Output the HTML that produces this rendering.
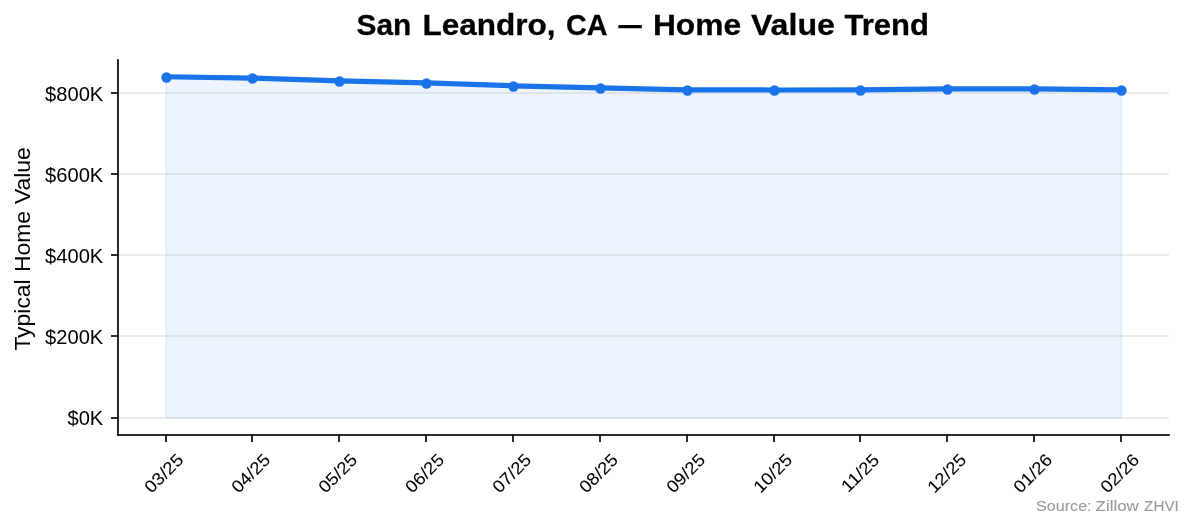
<!DOCTYPE html>
<html lang="en">
<head>
<meta charset="utf-8">
<title>San Leandro, CA — Home Value Trend</title>
<style>
html,body{margin:0;padding:0;background:#ffffff;}
body{width:1194px;height:529px;overflow:hidden;font-family:"Liberation Sans",sans-serif;}
svg{display:block;will-change:transform;}
text{font-family:"Liberation Sans",sans-serif;fill:#000000;}
.grid rect{fill:#b0b0b0;fill-opacity:0.25;}
.axis rect{fill:#000000;fill-opacity:0.8333;}
.ytick text{font-size:19.6px;text-anchor:end;stroke:#000000;stroke-width:0px;}
.xtick text{font-size:17.375px;text-anchor:middle;stroke:#000000;stroke-width:0.075px;}
</style>
</head>
<body>
<svg width="1194" height="529" viewBox="0 0 1194 529">
<rect x="0" y="0" width="1194" height="529" fill="#ffffff"/>
<polygon points="166,76.79 252.41,78.05 339.26,80.81 426.11,82.92 512.96,85.8 599.81,87.83 686.66,89.82 773.51,89.98 860.36,89.86 947.21,88.89 1034.06,88.97 1121.5,89.82 1121.5,418 166,418" fill="#1a73e8" fill-opacity="0.08" stroke="#1a73e8" stroke-opacity="0.08" stroke-width="2.083" stroke-linejoin="miter"/>
<g class="grid">
<rect x="118" y="92" width="1051" height="2"/>
<rect x="118" y="173" width="1051" height="2"/>
<rect x="118" y="254" width="1051" height="2"/>
<rect x="118" y="335" width="1051" height="2"/>
<rect x="118" y="417" width="1051" height="2"/>
</g>
<polyline points="165.56,76.79 252.41,78.05 339.26,80.81 426.11,82.92 512.96,85.8 599.81,87.83 686.66,89.82 773.51,89.98 860.36,89.86 947.21,88.89 1034.06,88.97 1120.91,89.82" fill="none" stroke="#1a73e8" stroke-width="5.208" stroke-linejoin="round" stroke-linecap="square"/>
<g fill="#1a73e8">
<circle cx="166.5" cy="77.5" r="5.2"/>
<circle cx="252.5" cy="78.5" r="5.2"/>
<circle cx="339.5" cy="81.5" r="5.2"/>
<circle cx="426.5" cy="83.5" r="5.2"/>
<circle cx="513.5" cy="86.5" r="5.2"/>
<circle cx="600.5" cy="88.5" r="5.2"/>
<circle cx="687.5" cy="90.5" r="5.2"/>
<circle cx="774.5" cy="90.5" r="5.2"/>
<circle cx="860.5" cy="90.5" r="5.2"/>
<circle cx="947.5" cy="89.5" r="5.2"/>
<circle cx="1034.5" cy="89.5" r="5.2"/>
<circle cx="1121.5" cy="90.5" r="5.2"/>
</g>
<g class="axis">
<rect x="117" y="59.17" width="2" height="376.43"/>
<rect x="117.1" y="434" width="1052.74" height="2"/>
<rect x="111" y="92" width="7" height="2"/>
<rect x="111" y="173" width="7" height="2"/>
<rect x="111" y="254" width="7" height="2"/>
<rect x="111" y="335" width="7" height="2"/>
<rect x="111" y="417" width="7" height="2"/>
<rect x="165" y="435" width="2" height="7"/>
<rect x="251" y="435" width="2" height="7"/>
<rect x="338" y="435" width="2" height="7"/>
<rect x="425" y="435" width="2" height="7"/>
<rect x="512" y="435" width="2" height="7"/>
<rect x="599" y="435" width="2" height="7"/>
<rect x="686" y="435" width="2" height="7"/>
<rect x="773" y="435" width="2" height="7"/>
<rect x="859" y="435" width="2" height="7"/>
<rect x="946" y="435" width="2" height="7"/>
<rect x="1033" y="435" width="2" height="7"/>
<rect x="1120" y="435" width="2" height="7"/>
</g>
<g class="ytick">
<text transform="translate(103.3,100.9) scale(1.028,1)">$800K</text>
<text transform="translate(103.3,181.9) scale(1.028,1)">$600K</text>
<text transform="translate(103.3,262.9) scale(1.028,1)">$400K</text>
<text transform="translate(103.3,343.9) scale(1.028,1)">$200K</text>
<text transform="translate(103.3,424.9) scale(1.028,1)">$0K</text>
</g>
<g class="xtick">
<text transform="translate(168,477.5) rotate(-45) scale(1.07,1)">03/25</text>
<text transform="translate(254.84,477.5) rotate(-45) scale(1.07,1)">04/25</text>
<text transform="translate(341.94,477.5) rotate(-45) scale(1.07,1)">05/25</text>
<text transform="translate(428.79,477.5) rotate(-45) scale(1.07,1)">06/25</text>
<text transform="translate(515.89,477.5) rotate(-45) scale(1.07,1)">07/25</text>
<text transform="translate(602.74,477.5) rotate(-45) scale(1.07,1)">08/25</text>
<text transform="translate(689.84,477.5) rotate(-45) scale(1.07,1)">09/25</text>
<text transform="translate(776.94,477.5) rotate(-45) scale(1.07,1)">10/25</text>
<text transform="translate(864.29,477.25) rotate(-45) scale(1.07,1)">11/25</text>
<text transform="translate(950.89,477.5) rotate(-45) scale(1.07,1)">12/25</text>
<text transform="translate(1036.99,477.5) rotate(-45) scale(1.07,1)">01/26</text>
<text transform="translate(1123.84,477.5) rotate(-45) scale(1.07,1)">02/26</text>
</g>
<text transform="translate(29.938,0) rotate(-90) scale(1.066,1)" font-size="21.5" stroke="#000000" stroke-width="0"><tspan x="-328.923" textLength="66.91" lengthAdjust="spacingAndGlyphs">Typical</tspan> <tspan x="-255.255" textLength="57.36" lengthAdjust="spacingAndGlyphs">Home</tspan> <tspan x="-191.441" textLength="53.4" lengthAdjust="spacingAndGlyphs">Value</tspan></text>
<text transform="translate(0,35) scale(1.063,1)" font-size="29.175" font-weight="bold" stroke="#000000" stroke-width="0.262"><tspan x="335.34" textLength="51.54" lengthAdjust="spacingAndGlyphs">San</tspan> <tspan x="397.423" textLength="125.12" lengthAdjust="spacingAndGlyphs">Leandro,</tspan> <tspan x="532.405" textLength="39.14" lengthAdjust="spacingAndGlyphs">CA</tspan> <tspan x="581.789" textLength="21.87" lengthAdjust="spacingAndGlyphs">—</tspan> <tspan x="614.241" textLength="82.99" lengthAdjust="spacingAndGlyphs">Home</tspan> <tspan x="706.425" textLength="79.06" lengthAdjust="spacingAndGlyphs">Value</tspan> <tspan x="794.375" textLength="79.45" lengthAdjust="spacingAndGlyphs">Trend</tspan></text>
<text transform="translate(0,511) scale(1.046,1)" font-size="15.4" style="fill:#999999" stroke="#999999" stroke-width="0.105"><tspan x="990.534" textLength="53.05" lengthAdjust="spacingAndGlyphs">Source:</tspan> <tspan x="1047.423" textLength="41.27" lengthAdjust="spacingAndGlyphs">Zillow</tspan> <tspan x="1093.795" textLength="33.13" lengthAdjust="spacingAndGlyphs">ZHVI</tspan></text>
</svg>
</body>
</html>
